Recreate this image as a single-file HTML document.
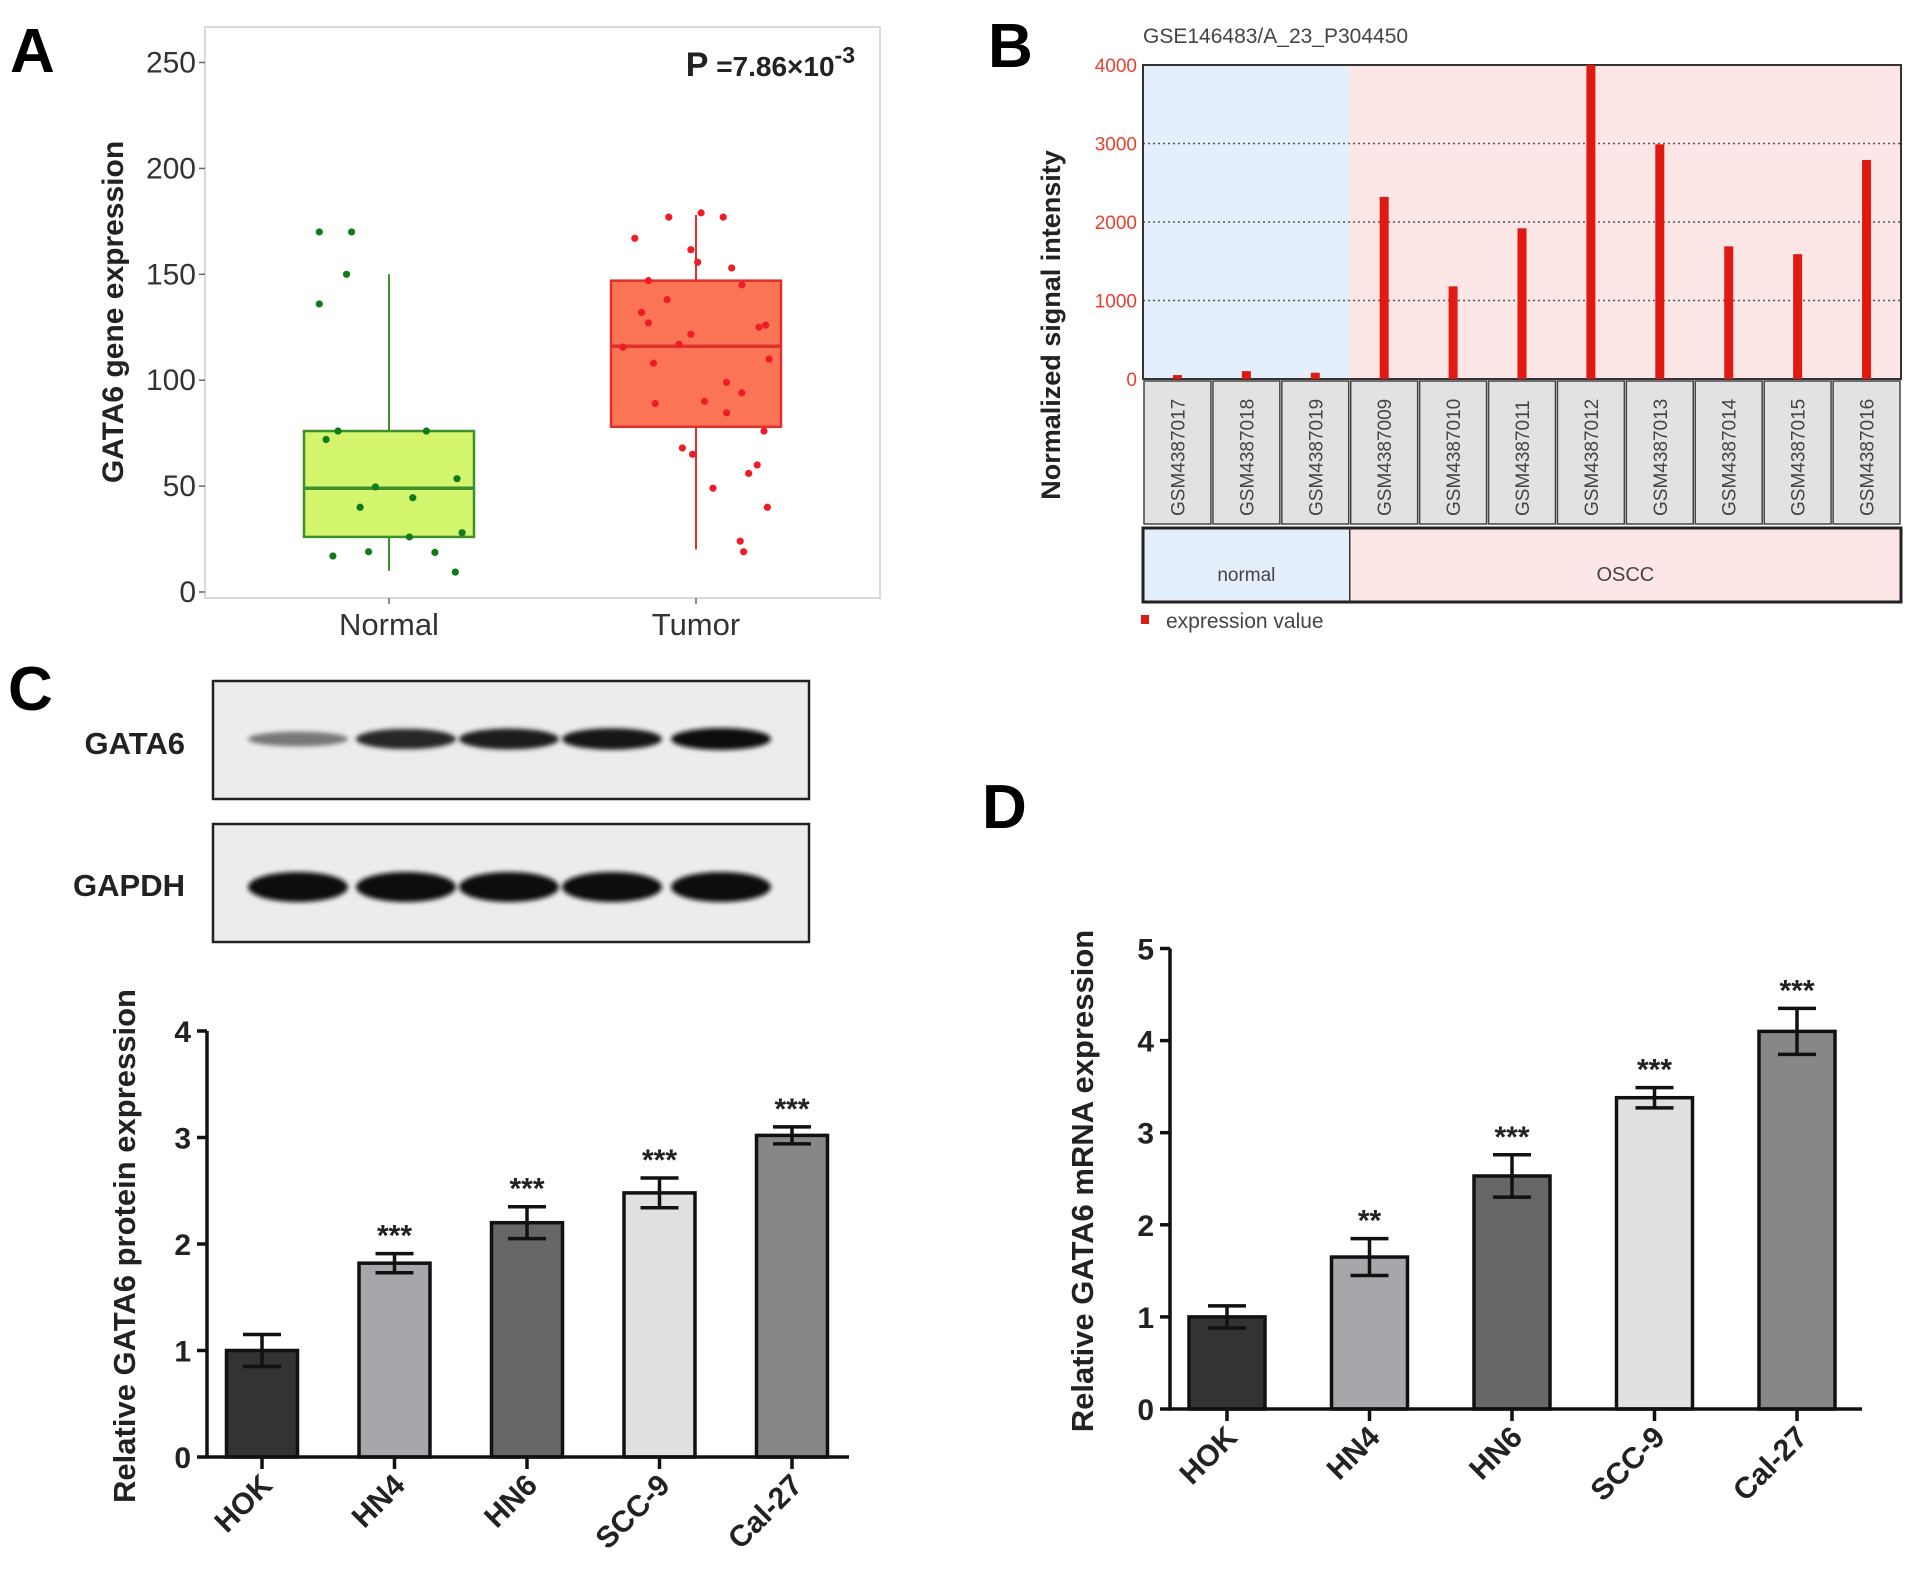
<!DOCTYPE html>
<html><head><meta charset="utf-8"><style>
html,body{margin:0;padding:0;background:#fff;}
svg{display:block;font-family:"Liberation Sans",Arial,sans-serif;}
</style></head><body>
<svg id="fig" width="1913" height="1571" viewBox="0 0 1913 1571" xmlns="http://www.w3.org/2000/svg">
<defs>
<filter id="blur" x="-20%" y="-50%" width="140%" height="200%"><feGaussianBlur stdDeviation="2.5"/></filter>
</defs>
<g id="pa"></g>
<g id="pb"></g>
<g id="pc"></g>
<g id="pd"></g>
</svg>
<script>
// ---------- Panel A data ----------
const aCategories = ["Normal", "Tumor"];
const aTicks = [0, 50, 100, 150, 200, 250];
const aNormalBox = [10, 26, 49, 76, 150]; // min q1 med q3 max
const aTumorBox = [20, 78, 116, 147, 178];
const aNormalPts = [170,170,150,136,72,76,76,53.5,49.6,44.5,40,28,26,17,19,18.7,9.4];
const aNormalJit = [-0.41,-0.22,-0.25,-0.41,-0.37,-0.30,0.22,0.40,-0.08,0.14,-0.17,0.43,0.12,-0.33,-0.12,0.27,0.39];
const aTumorPts = [177,179,177,167,161.6,155.7,153,147,145,138,132,127,125,126,121.7,117,115.6,108,110,99,94,89,90,84.6,76,68,65,60,56,49,40,24,19];
const aTumorJit = [-0.16,0.03,0.16,-0.36,-0.03,0.01,0.21,-0.28,0.27,-0.17,-0.32,-0.28,0.37,0.41,-0.03,-0.10,-0.43,-0.25,0.43,0.18,0.27,-0.24,0.05,0.18,0.40,-0.08,-0.02,0.36,0.31,0.10,0.42,0.26,0.28];
// ---------- Panel B data ----------
const bSamples = ["GSM4387017","GSM4387018","GSM4387019","GSM4387009","GSM4387010","GSM4387011","GSM4387012","GSM4387013","GSM4387014","GSM4387015","GSM4387016"];
const bValues = [50,100,80,2320,1180,1920,4000,2990,1690,1590,2790];
const bTicks = [0,1000,2000,3000,4000];
const bGroups = ["normal","OSCC"];
const bGroupCounts = [3,8];
// ---------- Panel C data ----------
const cCategories = ["HOK","HN4","HN6","SCC-9","Cal-27"];
const cValues = [1.0,1.82,2.2,2.48,3.02];
const cErrors = [0.15,0.09,0.15,0.14,0.08];
const cStars = ["","***","***","***","***"];
const cTicks = [0,1,2,3,4];
const cBandGATA6 = [0.35,0.85,0.9,0.95,1.0];
// ---------- Panel D data ----------
const dCategories = ["HOK","HN4","HN6","SCC-9","Cal-27"];
const dValues = [1.0,1.65,2.53,3.38,4.1];
const dErrors = [0.12,0.2,0.23,0.11,0.25];
const dStars = ["","**","***","***","***"];
const dTicks = [0,1,2,3,4,5];
const barColors = ["#333333","#a7a7ab","#676767","#e0e0e0","#878787"];

const NS="http://www.w3.org/2000/svg";
function mk(parent,tag,attrs,text){const e=document.createElementNS(NS,tag);for(const k in attrs)e.setAttribute(k,attrs[k]);if(text!==undefined)e.textContent=text;parent.appendChild(e);return e;}

// ================= Panel A =================
(function(){
const g=document.getElementById('pa');
const L=205,R=880,T=27,B=598;
const yA=v=>592-(v/250)*529.5;
const cx=i=>389+i*307;
const bw=170;
let e=mk(g,'text',{x:10,y:72,'font-size':62,'font-weight':'bold'},'A');

e=mk(g,'rect',{x:L,y:T,width:R-L,height:B-T,fill:'#fff',stroke:'#d9d9d9','stroke-width':2});

aTicks.forEach(t=>{
 e=mk(g,'text',{x:196,y:yA(t)+10,'font-size':30,'text-anchor':'end',fill:'#333'},String(t));
 
 mk(g,'line',{x1:199,x2:L,y1:yA(t),y2:yA(t),stroke:'#666','stroke-width':1.5});
});
e=mk(g,'text',{x:0,y:0,'font-size':30,'font-weight':'bold','text-anchor':'middle',transform:'translate(123,312) rotate(-90)',fill:'#222'},'GATA6 gene expression');

e=mk(g,'text',{x:855,y:76,'font-size':28,'text-anchor':'end','font-weight':'bold',fill:'#222'});
e.innerHTML='<tspan font-size="34">P</tspan> =7.86×10<tspan dy="-13" font-size="23">-3</tspan>';

const boxes=[aNormalBox,aTumorBox];
const fills=['#d4f56e','#fc7456'], strokes=['#3f8f2a','#e0302a'], ptc=['#117a1a','#ee1c24'];
boxes.forEach((b,i)=>{
 const x=cx(i);
 mk(g,'line',{x1:x,x2:x,y1:yA(b[0]),y2:yA(b[4]),stroke:strokes[i],'stroke-width':2});
 e=mk(g,'rect',{x:x-bw/2,y:yA(b[3]),width:bw,height:yA(b[1])-yA(b[3]),fill:fills[i],stroke:strokes[i],'stroke-width':2.5});
 
 mk(g,'line',{x1:x-bw/2,x2:x+bw/2,y1:yA(b[2]),y2:yA(b[2]),stroke:strokes[i],'stroke-width':3.5});
 mk(g,'line',{x1:x,x2:x,y1:B,y2:B+6,stroke:'#666','stroke-width':1.5});
 e=mk(g,'text',{x:x,y:635,'font-size':31,'text-anchor':'middle',fill:'#333'},aCategories[i]);
 
});
[[aNormalPts,aNormalJit],[aTumorPts,aTumorJit]].forEach((p,i)=>{
 p[0].forEach((v,j)=>{
  e=mk(g,'circle',{cx:cx(i)+p[1][j]*bw,cy:yA(v),r:3.6,fill:ptc[i]});
  
 });
});
})();

// ================= Panel B =================
(function(){
const g=document.getElementById('pb');
const L=1143,R=1901,T=65,B=379;
const n=bSamples.length, cw=(R-L)/n;
const yB=v=>B-(v/4000)*(B-T);
let e=mk(g,'text',{x:988,y:67,'font-size':62,'font-weight':'bold'},'B');

e=mk(g,'text',{x:1143,y:43,'font-size':21,fill:'#444'},'GSE146483/A_23_P304450');

const split=L+bGroupCounts[0]*cw;
mk(g,'rect',{x:L,y:T,width:split-L,height:B-T,fill:'#e3f0fb'});
mk(g,'rect',{x:split,y:T,width:R-split,height:B-T,fill:'#fde6e6'});
bTicks.forEach(t=>{
 if(t>0&&t<4000){e=mk(g,'line',{x1:L,x2:R,y1:yB(t),y2:yB(t),stroke:'#556','stroke-width':1.5,'stroke-dasharray':'2,3'});
 }
 e=mk(g,'text',{x:1137,y:yB(t)+7,'font-size':19,'text-anchor':'end',fill:'#e8402e'},String(t));
 
});
mk(g,'rect',{x:L,y:T,width:R-L,height:B-T,fill:'none',stroke:'#333','stroke-width':2});
bValues.forEach((v,i)=>{
 const x=L+cw*(i+0.5);
 e=mk(g,'rect',{x:x-4.5,y:yB(v),width:9,height:B-yB(v),fill:'#e01a10'});
 
 e=mk(g,'rect',{x:L+cw*i+1,y:381,width:cw-2,height:143,fill:'#e2e2e2',stroke:'#444','stroke-width':1.5});
 
 e=mk(g,'text',{x:0,y:0,'font-size':19,fill:'#444','text-anchor':'start',transform:`translate(${x+7},516) rotate(-90)`},bSamples[i]);
 
});
mk(g,'rect',{x:L,y:528,width:split-L,height:74,fill:'#e3f0fb'});
mk(g,'rect',{x:split,y:528,width:R-split,height:74,fill:'#fde6e6'});
mk(g,'rect',{x:L,y:528,width:R-L,height:74,fill:'none',stroke:'#222','stroke-width':3});
mk(g,'line',{x1:split,x2:split,y1:528,y2:602,stroke:'#333','stroke-width':1.5});
e=mk(g,'text',{x:(L+split)/2,y:581,'font-size':19,'text-anchor':'middle',fill:'#444'},bGroups[0]);

e=mk(g,'text',{x:(split+R)/2,y:581,'font-size':20,'text-anchor':'middle',fill:'#444'},bGroups[1]);

e=mk(g,'rect',{x:1141,y:615,width:8,height:9,fill:'#e01a10'});

e=mk(g,'text',{x:1166,y:628,'font-size':21,fill:'#444'},'expression value');

e=mk(g,'text',{x:0,y:0,'font-size':27,'font-weight':'bold','text-anchor':'middle',transform:'translate(1060,325) rotate(-90)',fill:'#222'},'Normalized signal intensity');

})();

// ================= Bar chart helper =================
function barChart(g,opt,cats,vals,errs,stars,ticks){
 const y=v=>opt.y0-v*opt.unit;
 let e;
 cats.forEach((c,i)=>{
  const x=opt.x0+opt.step*i;
  e=mk(g,'rect',{x:x-opt.bw/2,y:y(vals[i]),width:opt.bw,height:y(0)-y(vals[i]),fill:barColors[i],stroke:'#111','stroke-width':3.5});
  
  const hi=y(vals[i]+errs[i]),lo=y(vals[i]-errs[i]);
  e=mk(g,'path',{d:`M${x},${hi}V${lo}M${x-19},${hi}H${x+19}M${x-19},${lo}H${x+19}`,stroke:'#111','stroke-width':3.5,fill:'none'});
  
  if(stars[i]){e=mk(g,'text',{x:x,y:hi-8,'font-size':30,'font-weight':'bold','text-anchor':'middle',fill:'#222'},stars[i]);
  }
  mk(g,'line',{x1:x,x2:x,y1:opt.y0,y2:opt.y0+12,stroke:'#111','stroke-width':3.5});
  e=mk(g,'text',{x:0,y:0,'font-size':30,'font-weight':'bold','text-anchor':'end',fill:'#222',transform:`translate(${x+12},${opt.y0+30}) rotate(-45)`},c);
  
 });
 ticks.forEach(t=>{
  mk(g,'line',{x1:opt.ax-10,x2:opt.ax,y1:y(t),y2:y(t),stroke:'#111','stroke-width':3.5});
  e=mk(g,'text',{x:opt.ax-16,y:y(t)+11,'font-size':30,'font-weight':'bold','text-anchor':'end',fill:'#222'},String(t));
  
 });
 e=mk(g,'path',{d:`M${opt.ax},${y(ticks[ticks.length-1])}V${opt.y0}H${opt.xr}`,stroke:'#111','stroke-width':3.5,fill:'none'});
 
 e=mk(g,'text',{x:0,y:0,'font-size':31,'font-weight':'bold','text-anchor':'middle',fill:'#222',transform:`translate(${opt.tx},${opt.ty}) rotate(-90)`},opt.title);
 
}

// ================= Panel C =================
(function(){
const g=document.getElementById('pc');
let e=mk(g,'text',{x:8,y:710,'font-size':62,'font-weight':'bold'},'C');

const lanes=[298,406,509,612,721];
[[681,'GATA6',743,cBandGATA6,739,11],[824,'GAPDH',885,[1,1,1,1,1],887,15]].forEach(b=>{
 e=mk(g,'rect',{x:213,y:b[0],width:596,height:118,fill:'#ececec',stroke:'#222','stroke-width':2.5});
 
 e=mk(g,'text',{x:185,y:b[2]+11,'font-size':31,'font-weight':'bold','text-anchor':'end',fill:'#222'},b[1]);
 
 lanes.forEach((lx,i)=>{
  const k=b[3][i];
  const c=Math.round(15+(1-k)*160);
  e=mk(g,'ellipse',{cx:lx,cy:b[4],rx:50,ry:b[5]*(0.5+0.5*k),fill:`rgb(${c},${c},${c})`,filter:'url(#blur)'});
  
 });
});
barChart(g,{x0:262,step:132.5,bw:71,y0:1457,unit:106.5,ax:207,xr:849,tx:135,ty:1246,title:'Relative GATA6 protein expression'},cCategories,cValues,cErrors,cStars,cTicks);
})();

// ================= Panel D =================
(function(){
const g=document.getElementById('pd');
let e=mk(g,'text',{x:982,y:828,'font-size':62,'font-weight':'bold'},'D');

barChart(g,{x0:1227,step:142.5,bw:76,y0:1409,unit:92.1,ax:1170,xr:1862,tx:1093,ty:1181,title:'Relative GATA6 mRNA expression'},dCategories,dValues,dErrors,dStars,dTicks);
})();
</script>
</body></html>
